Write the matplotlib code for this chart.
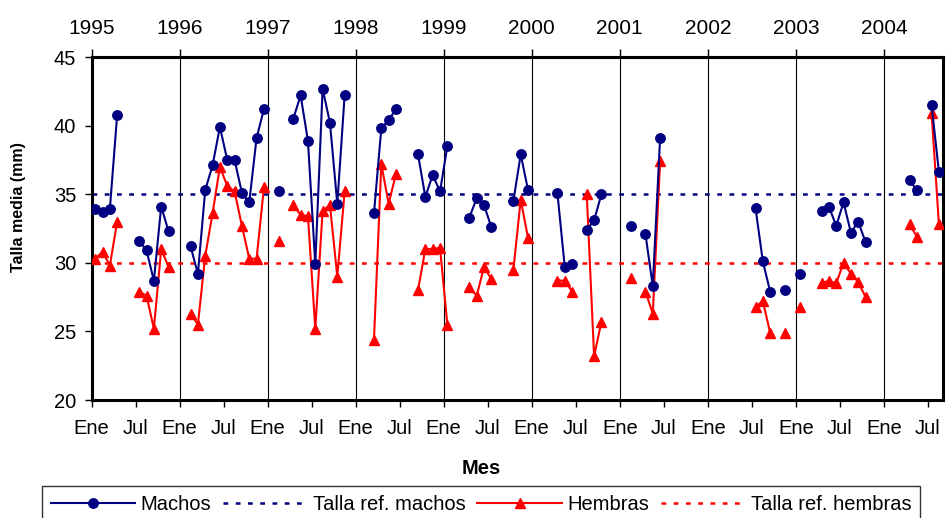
import numpy as np
import matplotlib
matplotlib.use("Agg")
import matplotlib.pyplot as plt
from matplotlib.lines import Line2D

plt.rcParams["font.family"] = ["Liberation Sans", "DejaVu Sans"]

NAVY = "#000080"
RED = "#FF0000"

years = ["1995", "1996", "1997", "1998", "1999", "2000", "2001", "2002", "2003", "2004"]
month_labels = ["Ene", "Jul"]
ref_machos = 35
ref_hembras = 30

N = None
# talla media mensual (mm), Ene 1995 .. Ago 2004, None = sin muestreo
machos = (
    [33.9, 33.7, 33.9, 40.8, N, N, 31.6, 30.9, 28.7, 34.1, 32.3, N]          # 1995
    + [N, 31.2, 29.2, 35.3, 37.1, 39.9, 37.5, 37.5, 35.1, 34.4, 39.1, 41.2]  # 1996
    + [N, 35.2, N, 40.5, 42.2, 38.9, 29.9, 42.7, 40.2, 34.3, 42.2, N]        # 1997
    + [N, N, 33.6, 39.8, 40.4, 41.2, N, N, 37.9, 34.8, 36.4, 35.2]           # 1998
    + [38.5, N, N, 33.3, 34.7, 34.2, 32.6, N, N, 34.5, 37.9, 35.3]           # 1999
    + [N, N, N, 35.1, 29.7, 29.9, N, 32.4, 33.1, 35.0, N, N]                 # 2000
    + [N, 32.7, N, 32.1, 28.3, 39.1, N, N, N, N, N, N]                       # 2001
    + [N, N, N, N, N, N, 34.0, 30.1, 27.9, N, 28.0, N]                       # 2002
    + [29.2, N, N, 33.8, 34.1, 32.7, 34.4, 32.2, 33.0, 31.5, N, N]           # 2003
    + [N, N, N, 36.0, 35.3, N, 41.5, 36.6]                                   # 2004
)
hembras = (
    [30.3, 30.8, 29.8, 33.0, N, N, 27.9, 27.6, 25.2, 31.0, 29.7, N]          # 1995
    + [N, 26.3, 25.5, 30.5, 33.6, 37.0, 35.6, 35.2, 32.7, 30.3, 30.3, 35.5]  # 1996
    + [N, 31.6, N, 34.2, 33.5, 33.4, 25.2, 33.8, 34.2, 29.0, 35.2, N]        # 1997
    + [N, N, 24.4, 37.2, 34.3, 36.5, N, N, 28.0, 31.0, 31.0, 31.1]           # 1998
    + [25.5, N, N, 28.2, 27.6, 29.7, 28.8, N, N, 29.5, 34.6, 31.8]           # 1999
    + [N, N, N, 28.7, 28.7, 27.9, N, 35.0, 23.2, 25.7, N, N]                 # 2000
    + [N, 28.9, N, 27.9, 26.3, 37.4, N, N, N, N, N, N]                       # 2001
    + [N, N, N, N, N, N, 26.8, 27.2, 24.9, N, 24.9, N]                       # 2002
    + [26.8, N, N, 28.5, 28.7, 28.5, 30.0, 29.2, 28.6, 27.5, N, N]           # 2003
    + [N, N, N, 32.8, 31.9, N, 40.9, 32.8]                                   # 2004
)

mach = np.array([np.nan if v is None else v for v in machos])
hemb = np.array([np.nan if v is None else v for v in hembras])
n = len(mach)
x = np.arange(n) + 0.5  # cada mes centrado en su categoría

fig = plt.figure(figsize=(9.46, 5.18), dpi=100)
ax = fig.add_axes([91.5 / 946, 1 - 400 / 518, (942.6 - 91.5) / 946, (400 - 57) / 518])

# separadores anuales
for k in range(12, n, 12):
    ax.axvline(k, color="black", lw=0.8, zorder=1)

dash = (0, (1.9, 3.0))
ax.axhline(ref_machos, color=NAVY, lw=1.8, linestyle=dash, zorder=2)
ax.axhline(ref_hembras, color=RED, lw=1.8, linestyle=dash, zorder=2)

ax.plot(x, mach, "-o", color=NAVY, lw=1.5, ms=6.8, zorder=4)
ax.plot(x, hemb, "-^", color=RED, lw=1.5, ms=7.5, zorder=3)

ax.set_xlim(0, 116)
ax.set_ylim(20, 45)
ax.set_yticks(range(20, 46, 5))
ax.set_xticks(range(0, n, 6))
ax.set_xticklabels([month_labels[(k // 6) % 2] for k in range(0, n, 6)])
ax.tick_params(axis="both", direction="out", length=5, width=1, labelsize=14.5,
               colors="black")
ax.tick_params(axis="x", pad=9)
ax.tick_params(axis="y", pad=6)
for s in ax.spines.values():
    s.set_linewidth(2.2)

top = ax.secondary_xaxis("top")
top.set_xticks(range(0, n, 12))
top.set_xticklabels(years)
top.tick_params(direction="out", length=6, width=1, labelsize=15, pad=8)
top.spines["top"].set_linewidth(2.2)

fig.text(19 / 946, 1 - 207 / 518, "Talla media (mm)", rotation=90, ha="center",
         va="center", fontsize=11.5, fontweight="bold")
fig.text(481 / 946, 1 - 468 / 518, "Mes", ha="center", va="center",
         fontsize=14.5, fontweight="bold")

handles = [
    Line2D([], [], color=NAVY, lw=1.5, marker="o", ms=6.8),
    Line2D([], [], color=NAVY, lw=1.8, linestyle=dash),
    Line2D([], [], color=RED, lw=1.5, marker="^", ms=7.5),
    Line2D([], [], color=RED, lw=1.8, linestyle=dash),
]
labels = ["Machos", "Talla ref. machos", "Hembras", "Talla ref. hembras"]
leg = fig.legend(handles, labels, loc="upper center", ncol=4,
                 bbox_to_anchor=(481 / 946, 1 - 486 / 518), fontsize=14.5,
                 frameon=True, fancybox=False, edgecolor="black",
                 handlelength=4.2, handletextpad=0.25, columnspacing=0.6,
                 borderpad=0.45, borderaxespad=0)
leg.get_frame().set_linewidth(1.0)

fig.savefig("out.png", dpi=100, facecolor="white")
